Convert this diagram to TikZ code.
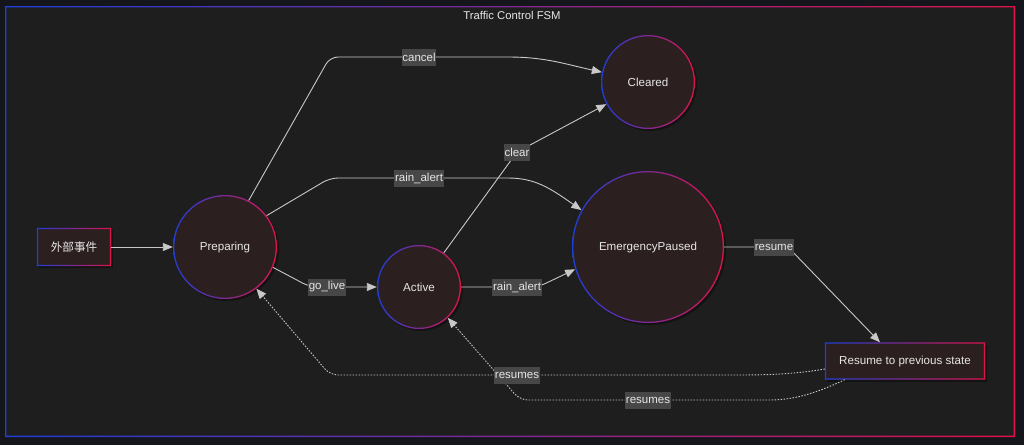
\documentclass[tikz,border=0pt]{standalone}
\usepackage{fontspec}
\setmainfont{Liberation Sans}
\newfontfamily\cjk{Noto Sans CJK SC}
\usetikzlibrary{arrows.meta,calc}
\definecolor{outerbg}{HTML}{15151C}
\definecolor{innerbg}{HTML}{1E1E1E}
\definecolor{nodefill}{HTML}{2C1F20}
\definecolor{gblue}{HTML}{1E3FD8}
\definecolor{gred}{HTML}{E0124A}
\definecolor{edgecol}{HTML}{C8C8C8}
\definecolor{lblfill}{HTML}{474747}
\definecolor{txt}{HTML}{E6E6E6}
\newcommand\gradring[2]{%
  \shade[left color=gblue,right color=gred,even odd rule] (#1.center) circle[radius=#2] circle[radius=#2-1.3pt];}
\newcommand\gradrect[1]{%
  \shade[left color=gblue,right color=gred,even odd rule] (#1.south west) rectangle (#1.north east)
    ($(#1.south west)+(1.3pt,1.3pt)$) rectangle ($(#1.north east)+(-1.3pt,-1.3pt)$);}
\begin{document}
\begin{tikzpicture}[x=1pt,y=-1pt,
  state/.style={circle,fill=nodefill,inner sep=0pt,text=txt,font=\fontsize{11.6}{14}\selectfont},
  rectnode/.style={rectangle,fill=nodefill,inner sep=0pt,text=txt,font=\fontsize{11.6}{14}\selectfont},
  lbl/.style={fill=lblfill,text=txt,inner xsep=0.6pt,inner ysep=0pt,minimum height=17pt,font=\fontsize{11.5}{13}\selectfont},
  titlestyle/.style={text=txt,font=\fontsize{11.3}{13}\selectfont},
  edge/.style={draw=edgecol,line width=0.9pt,-{Triangle[length=10pt,width=8pt]},rounded corners=8pt},
  dotstyle/.style={dash pattern=on 1.5pt off 1.5pt},
  shadowstyle/.style={fill=black,opacity=0.35}
]
\useasboundingbox (0,0) rectangle (1024,445);
\fill[outerbg] (0,0) rectangle (1024,445);
\fill[innerbg] (5,6) rectangle (1015,437);
\shade[left color=gblue,right color=gred,even odd rule] (5,6) rectangle (1015,437) (6.3,7.3) rectangle (1013.7,435.7);
\node[titlestyle] (ttl) at (512,15) {Traffic Control FSM};

% shadows
\fill[shadowstyle] (76,249) ++(-37,-19) rectangle ++(74,38);
\fill[shadowstyle] (227,249) circle[radius=52pt];
\fill[shadowstyle] (650,84) circle[radius=47pt];
\fill[shadowstyle] (650,249) circle[radius=76pt];
\fill[shadowstyle] (421,289) circle[radius=42pt];
\fill[shadowstyle] (907,363) ++(-80,-18.5) rectangle ++(160,37);

% nodes
\node[rectnode, minimum width=74pt, minimum height=38pt] (ext) at (74,247) {\cjk 外部事件};
\node[state, minimum size=104pt] (prep) at (225,247) {Preparing};
\node[state, minimum size=94pt] (clr) at (648,82) {Cleared};
\node[state, minimum size=152pt] (emg) at (648,247) {EmergencyPaused};
\node[state, minimum size=84pt] (act) at (419,287) {Active};
\node[rectnode, minimum width=160pt, minimum height=37pt] (rsm) at (905,361) {Resume to previous state};
\gradrect{ext}
\gradring{prep}{52pt}
\gradring{clr}{47pt}
\gradring{emg}{76pt}
\gradring{act}{42pt}
\gradrect{rsm}

% edges
\draw[edge] (ext) -- (prep);
\draw[edge] (prep.63) -- (330,57) -- (500,57) .. controls (545,57) and (565,64) .. (clr.168);
\draw[edge] (prep.37) -- (330,178) -- (500,178) .. controls (535,178) and (550,188) .. (emg.151);
\draw[edge] (prep.-23) -- (310,287) -- (act.west);
\draw[edge] (act.54) -- (517,152) -- (clr.208);
\draw[edge] (act.east) -- (538,287) -- (emg.197);
\draw[edge] (emg.east) -- (788,247) -- ($(rsm.north)+(-25,0)$);
\draw[edge,dotstyle] ($(rsm.west)+(0,8)$) .. controls (790,375) and (760,375) .. (720,375) -- (330,375) -- (prep.-53);
\draw[edge,dotstyle] ($(rsm.south west)+(20,0)$) .. controls (810,396) and (790,400) .. (760,400) -- (520,400) -- (act.-47);

% labels
\node[lbl] (l1) at (419,57) {cancel};
\node[lbl] (l2) at (419,178) {rain\_alert};
\node[lbl] (l3) at (327,287) {go\_live};
\node[lbl] (l4) at (517,152) {clear};
\node[lbl] (l5) at (517,287) {rain\_alert};
\node[lbl] (l6) at (774,247) {resume};
\node[lbl] (l7) at (517,375) {resumes};
\node[lbl] (l8) at (648,400) {resumes};
\end{tikzpicture}
\end{document}
